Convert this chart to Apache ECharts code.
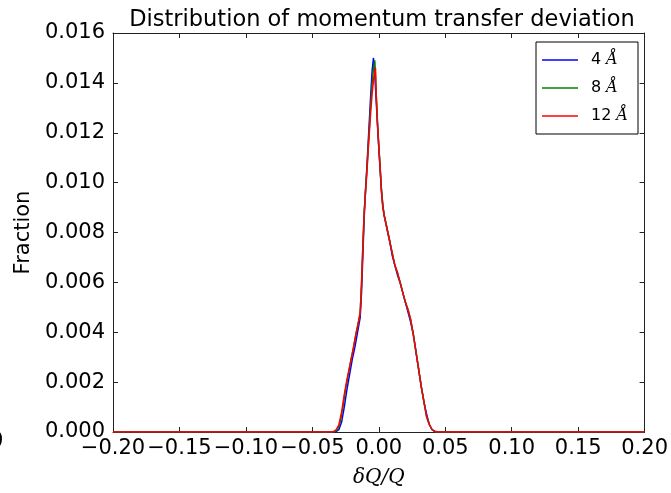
<!DOCTYPE html>
<html>
<head>
<meta charset="utf-8">
<script src="https://cdn.jsdelivr.net/npm/echarts@6/dist/echarts.min.js"></script>
<style>
html,body{margin:0;padding:0;background:#fff;}
#chart{width:671px;height:493px;}
</style>
</head>
<body>
<div id="chart"></div>
<script>
const seriesNames = ['4 Å', '8 Å', '12 Å'];
const seriesColors = ['#0000ff', '#008000', '#ff0000'];
const xTicks = [-0.20, -0.15, -0.10, -0.05, 0.00, 0.05, 0.10, 0.15, 0.20];
const yTicks = [0.000, 0.002, 0.004, 0.006, 0.008, 0.010, 0.012, 0.014, 0.016];

const data4 = [[-0.2,0],[-0.034,0],[-0.032,0.00003],[-0.030,0.0001],[-0.028,0.0004],[-0.026,0.0010],[-0.024,0.0017],[-0.022,0.0023],[-0.020,0.0029],[-0.018,0.0034],[-0.016,0.0040],[-0.015,0.0043],[-0.014,0.0046],[-0.013,0.0056],[-0.012,0.0071],[-0.011,0.0086],[-0.010,0.0097],[-0.009,0.0106],[-0.008,0.0116],[-0.007,0.0126],[-0.006,0.0136],[-0.005,0.0145],[-0.004,0.0150],[-0.003,0.0143],[-0.002,0.0133],[-0.001,0.0123],[0.000,0.0114],[0.001,0.0105],[0.002,0.0097],[0.003,0.0091],[0.004,0.0087],[0.006,0.0082],[0.008,0.0077],[0.010,0.0071],[0.012,0.0067],[0.014,0.0063],[0.016,0.0060],[0.018,0.0056],[0.020,0.0052],[0.022,0.0048],[0.024,0.0044],[0.026,0.0039],[0.028,0.0032],[0.030,0.0025],[0.032,0.0018],[0.034,0.0012],[0.036,0.0007],[0.038,0.0003],[0.040,0.0001],[0.042,0.00003],[0.045,0],[0.2,0]];
const data8 = [[-0.2,0],[-0.035,0],[-0.033,0.00002],[-0.031,0.0001],[-0.029,0.0004],[-0.027,0.0010],[-0.025,0.0017],[-0.023,0.0023],[-0.021,0.0029],[-0.019,0.0034],[-0.017,0.0040],[-0.015,0.0045],[-0.014,0.0048],[-0.013,0.0059],[-0.012,0.0074],[-0.011,0.0088],[-0.010,0.0097],[-0.009,0.0105],[-0.008,0.0114],[-0.007,0.0123],[-0.006,0.0132],[-0.005,0.0140],[-0.004,0.0146],[-0.003,0.0149],[-0.002,0.0136],[-0.001,0.0124],[0.000,0.0115],[0.001,0.0106],[0.002,0.0097],[0.003,0.0091],[0.004,0.0087],[0.006,0.0082],[0.008,0.0077],[0.010,0.0072],[0.012,0.0067],[0.014,0.0064],[0.016,0.0060],[0.018,0.0056],[0.020,0.0052],[0.022,0.0049],[0.024,0.0045],[0.026,0.0039],[0.028,0.0032],[0.030,0.0025],[0.032,0.0018],[0.034,0.0012],[0.036,0.0006],[0.038,0.0003],[0.040,0.0001],[0.042,0.00002],[0.044,0],[0.2,0]];
const data12 = [[-0.2,0],[-0.036,0],[-0.034,0.00002],[-0.032,0.0001],[-0.030,0.0003],[-0.028,0.0008],[-0.026,0.0015],[-0.024,0.0021],[-0.022,0.0026],[-0.020,0.0031],[-0.018,0.0037],[-0.016,0.0042],[-0.015,0.0045],[-0.014,0.0048],[-0.013,0.0060],[-0.012,0.0075],[-0.011,0.0088],[-0.010,0.0096],[-0.009,0.0104],[-0.008,0.0113],[-0.007,0.0121],[-0.006,0.0129],[-0.005,0.0136],[-0.004,0.0141],[-0.003,0.0145],[-0.0025,0.0146],[-0.002,0.0136],[-0.001,0.0124],[0.000,0.0114],[0.001,0.0106],[0.002,0.0096],[0.003,0.0090],[0.004,0.0087],[0.006,0.0082],[0.008,0.0077],[0.010,0.0072],[0.012,0.0067],[0.014,0.0064],[0.016,0.0060],[0.018,0.0056],[0.020,0.0052],[0.022,0.0049],[0.024,0.0045],[0.026,0.0039],[0.028,0.0032],[0.030,0.0025],[0.032,0.0018],[0.034,0.0012],[0.036,0.0006],[0.038,0.0003],[0.040,0.0001],[0.042,0.00002],[0.044,0],[0.2,0]];

const seriesData = [data4, data8, data12];

const chart = echarts.init(document.getElementById('chart'), null, {renderer: 'canvas'});
const FONT = 'DejaVu Sans';
const axisCol = '#222';
const grid = {left: 113, right: 26, top: 33, bottom: 55};

const xBase = {
  type: 'value', min: xTicks[0], max: xTicks[xTicks.length-1], interval: 0.05,
  splitLine: {show: false},
  axisLine: {show: true, onZero: false, lineStyle: {color: axisCol, width: 1}},
  axisTick: {show: true, inside: true, length: 5, lineStyle: {color: axisCol}}
};
const yBase = {
  type: 'value', min: yTicks[0], max: yTicks[yTicks.length-1], interval: 0.002,
  splitLine: {show: false},
  axisLine: {show: true, onZero: false, lineStyle: {color: axisCol, width: 1}},
  axisTick: {show: true, inside: true, length: 5, lineStyle: {color: axisCol}}
};

const option = {
  backgroundColor: '#fff',
  animation: false,
  title: {
    text: 'Distribution of momentum transfer deviation',
    left: 377, top: 4, textAlign: 'center',
    textStyle: {fontFamily: FONT, fontSize: 22.5, fontWeight: 'normal', color: '#000'}
  },
  grid: grid,
  legend: {
    data: seriesNames,
    orient: 'vertical',
    left: 536, top: 42,
    padding: [10, 10, 10, 6],
    itemGap: 12,
    itemWidth: 36, itemHeight: 1.5,
    icon: 'rect',
    borderColor: '#000', borderWidth: 1,
    backgroundColor: '#fff',
    formatter: function (name) {
      const parts = name.split(' ');
      return '{n|' + parts[0] + '} {a|' + parts[1] + '}';
    },
    textStyle: {
      color: '#000', fontFamily: FONT, fontSize: 16,
      rich: {
        n: {fontFamily: FONT, fontSize: 16, color: '#000', padding: [0, 0, 0, 8]},
        a: {fontFamily: 'DejaVu Serif', fontStyle: 'italic', fontSize: 16, color: '#000'}
      }
    }
  },
  xAxis: [
    Object.assign({}, xBase, {
      position: 'bottom',
      name: 'δQ/Q', nameLocation: 'middle', nameGap: 36,
      nameTextStyle: {fontFamily: 'DejaVu Serif', fontStyle: 'italic', fontSize: 20, color: '#000'},
      axisLabel: {
        show: true, margin: 6, fontFamily: FONT, fontSize: 21, color: '#000',
        formatter: v => (v < 0 ? '\u2212' : '') + Math.abs(v).toFixed(2),
        hideOverlap: false
      }
    }),
    Object.assign({}, xBase, {position: 'top', axisLabel: {show: false}})
  ],
  yAxis: [
    Object.assign({}, yBase, {
      position: 'left',
      name: 'Fraction', nameLocation: 'middle', nameGap: 73, nameRotate: 90,
      nameTextStyle: {fontFamily: FONT, fontSize: 21, color: '#000'},
      axisLabel: {
        show: true, margin: 8, fontFamily: FONT, fontSize: 21, color: '#000',
        formatter: v => v.toFixed(3)
      }
    }),
    Object.assign({}, yBase, {position: 'right', axisLabel: {show: false}})
  ],
  graphic: [{
    type: 'text', left: -10, top: 431,
    style: {text: '0', font: '21px "DejaVu Sans"', fill: '#000'}
  }],
  series: seriesNames.map((n, i) => ({
    name: n, type: 'line', data: seriesData[i],
    xAxisIndex: 0, yAxisIndex: 0,
    symbol: 'none', showSymbol: false,
    lineStyle: {color: seriesColors[i], width: 1.5},
    itemStyle: {color: seriesColors[i]},
    z: 2 + i
  }))
};
chart.setOption(option);
</script>
</body>
</html>
